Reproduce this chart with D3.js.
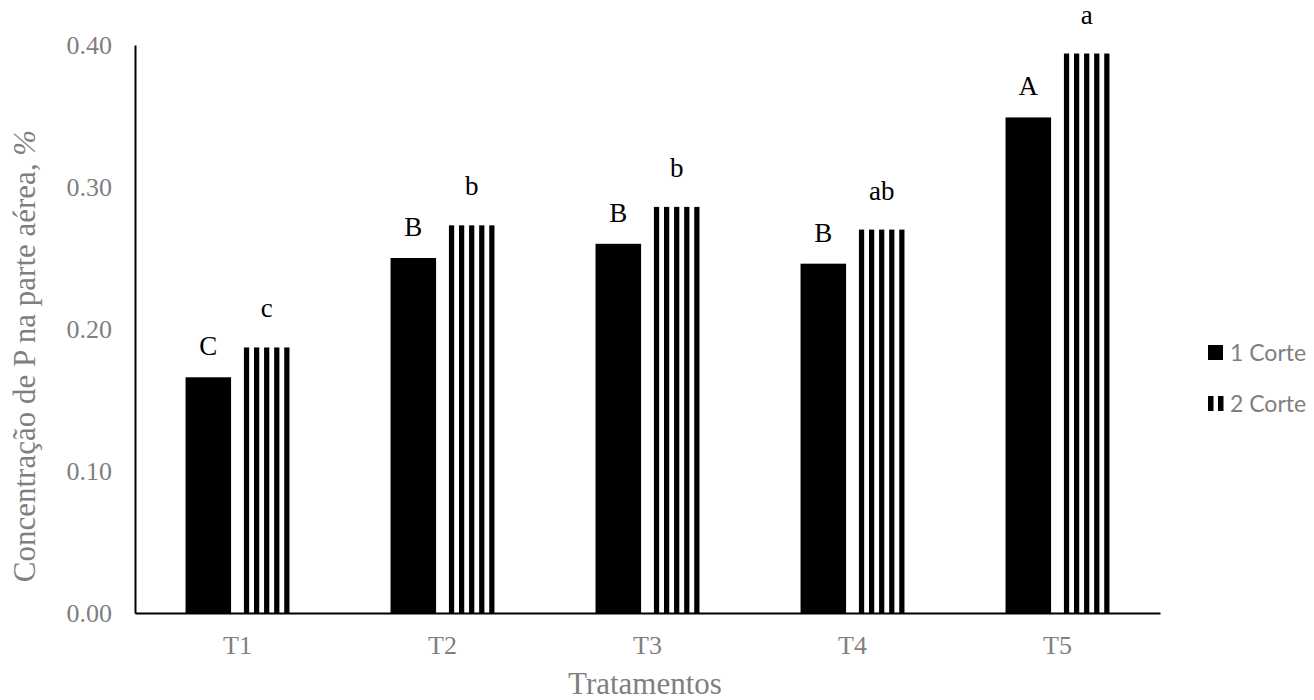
<!DOCTYPE html>
<html>
<head>
<meta charset="utf-8">
<script src="https://cdn.jsdelivr.net/npm/d3@7"></script>
<style>
  html, body { margin: 0; padding: 0; background: #fff; }
  svg { display: block; }
</style>
</head>
<body>
<svg id="chart" width="1314" height="700"></svg>
<script>
// ---- data ----
const categories = ["T1", "T2", "T3", "T4", "T5"];
const seriesNames = ["1 Corte", "2 Corte"];
const corte1 = [0.166, 0.250, 0.260, 0.246, 0.349];
const corte2 = [0.187, 0.273, 0.286, 0.270, 0.394];
const letters1 = ["C", "B", "B", "B", "A"];
const letters2 = ["c", "b", "b", "ab", "a"];
const yTicks = [0, 0.1, 0.2, 0.3, 0.4];
const yTitle = "Concentração de P na parte aérea, ";
const yTitleUnit = "%";
const xTitle = "Tratamentos";

// ---- layout ----
const svg = d3.select("#chart");
const mLeft = 135, mRight = 1160, mTop = 45, mBottom = 613;
const serif = "'Liberation Serif', 'Times New Roman', serif";
const sans = "Lato, 'Liberation Sans', Arial, sans-serif";
const gray = "#7f7f7f";

const y = d3.scaleLinear().domain([0, 0.4]).range([mBottom, mTop]);
const x0 = d3.scaleBand().domain(categories).range([mLeft, mRight])
  .paddingInner(0.493).paddingOuter(0.2465);
const x1 = d3.scaleBand().domain(seriesNames).range([0, x0.bandwidth()]).paddingInner(0.22);

const rows = categories.map((c, i) => ({
  cat: c,
  vals: [
    { s: seriesNames[0], v: corte1[i], lab: letters1[i] },
    { s: seriesNames[1], v: corte2[i], lab: letters2[i] }
  ]
}));

// bars
const g = svg.append("g");
const groups = g.selectAll("g.grp").data(rows).join("g")
  .attr("class", "grp")
  .attr("transform", d => `translate(${x0(d.cat)},0)`);

// solid bars
groups.append("rect")
  .attr("x", x1(seriesNames[0]))
  .attr("y", d => y(d.vals[0].v))
  .attr("width", x1.bandwidth())
  .attr("height", d => y(0) - y(d.vals[0].v))
  .attr("fill", "#000");

// striped bars
const nStripes = 5;
const bw = x1.bandwidth();
const sw = bw * 0.115;
const stripeStep = (bw - sw) / (nStripes - 1);
groups.each(function(d) {
  const gg = d3.select(this);
  const v = d.vals[1].v;
  gg.selectAll("rect.stripe").data(d3.range(nStripes)).join("rect")
    .attr("class", "stripe")
    .attr("x", k => x1(seriesNames[1]) + k * stripeStep)
    .attr("y", y(v))
    .attr("width", sw)
    .attr("height", y(0) - y(v))
    .attr("fill", "#000");
});

// letters
groups.append("text")
  .attr("x", x1(seriesNames[0]) + bw / 2)
  .attr("y", d => y(d.vals[0].v) - 22)
  .attr("text-anchor", "middle")
  .attr("font-family", serif).attr("font-size", 27).attr("fill", "#000")
  .text(d => d.vals[0].lab);
groups.append("text")
  .attr("x", x1(seriesNames[1]) + bw / 2)
  .attr("y", d => y(d.vals[1].v) - 30)
  .attr("text-anchor", "middle")
  .attr("font-family", serif).attr("font-size", 27).attr("fill", "#000")
  .text(d => d.vals[1].lab);

// axes
const yAxis = d3.axisLeft(y).tickValues(yTicks).tickFormat(d3.format(".2f")).tickSize(0).tickPadding(23);
const ya = svg.append("g").attr("transform", `translate(${mLeft},0)`).call(yAxis);
ya.select(".domain").attr("stroke", "#000").attr("stroke-width", 2);
ya.selectAll("text").attr("font-family", serif).attr("font-size", 26).attr("fill", gray);

const xAxis = d3.axisBottom(x0).tickSize(0).tickPadding(23);
const xa = svg.append("g").attr("transform", `translate(0,${mBottom})`).call(xAxis);
xa.select(".domain").attr("stroke", "#000").attr("stroke-width", 2);
xa.selectAll("text").attr("font-family", serif).attr("font-size", 26).attr("fill", gray);

// titles
const yt = svg.append("text")
  .attr("transform", `translate(35,356) rotate(-90)`)
  .attr("text-anchor", "middle")
  .attr("font-family", serif).attr("font-size", 31).attr("fill", gray);
yt.append("tspan").text(yTitle);
yt.append("tspan").attr("font-style", "italic").text(yTitleUnit);

svg.append("text")
  .attr("x", 645)
  .attr("y", 694)
  .attr("text-anchor", "middle")
  .attr("font-family", serif).attr("font-size", 31).attr("fill", gray)
  .text(xTitle);

// legend
const leg = svg.append("g").attr("transform", "translate(1208,345)");
const li = leg.selectAll("g").data(seriesNames).join("g")
  .attr("transform", (d, i) => `translate(0,${i * 51})`);
li.filter((d, i) => i === 0).append("rect")
  .attr("x", 0).attr("y", 0).attr("width", 15).attr("height", 15).attr("fill", "#000");
li.filter((d, i) => i === 1).selectAll("rect").data([0, 1]).join("rect")
  .attr("x", k => k * 10).attr("y", 0).attr("width", 5.5).attr("height", 15).attr("fill", "#000");
li.append("text")
  .attr("x", 22).attr("y", 7.5).attr("dy", "0.36em")
  .attr("font-family", sans).attr("font-size", 23).attr("fill", gray)
  .text(d => d);
</script>
</body>
</html>
